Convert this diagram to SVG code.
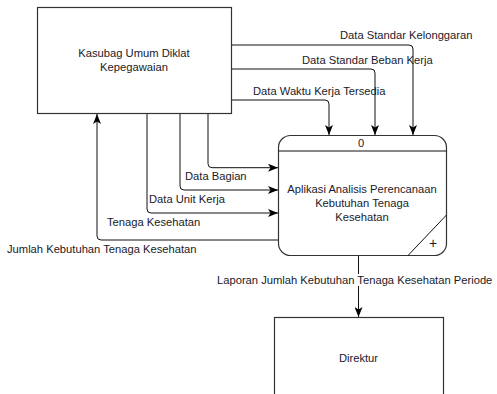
<svg xmlns="http://www.w3.org/2000/svg" width="497" height="394" viewBox="0 0 497 394">
<defs>
<marker id="arr" viewBox="0 0 10 8" refX="10" refY="4" markerWidth="10" markerHeight="8" markerUnits="userSpaceOnUse" orient="auto">
<path d="M0,0 L10,4 L0,8 L2.5,4 Z" fill="#000"/>
</marker>
<style>
.box{fill:#fff;stroke:#333;stroke-width:1.2}
.ln{fill:none;stroke:#111;stroke-width:1}
.t{font-family:"Liberation Sans",Arial,sans-serif;font-size:11.2px;fill:#1a1a2a}
.c{text-anchor:middle}
</style>
</defs>
<rect width="497" height="394" fill="#fff"/>
<g id="connectors">
<path class="ln" d="M232,45 H409 Q413,45 413,49 V135" marker-end="url(#arr)"/>
<path class="ln" d="M232,69 H371 Q375,69 375,73 V135" marker-end="url(#arr)"/>
<path class="ln" d="M232,100 H325 Q329,100 329,104 V135" marker-end="url(#arr)"/>
<path class="ln" d="M208,114 V163.7 Q208,167.7 212,167.7 H278" marker-end="url(#arr)"/>
<path class="ln" d="M180,114 V186 Q180,190 184,190 H278" marker-end="url(#arr)"/>
<path class="ln" d="M147,114 V209 Q147,213 151,213 H278" marker-end="url(#arr)"/>
<path class="ln" d="M278,240 H101 Q97,240 97,236 V114" marker-end="url(#arr)"/>
<path class="ln" d="M358.5,255 V317" marker-end="url(#arr)"/>
<rect x="216" y="274" width="281" height="12" fill="#fff"/>
<text class="t" x="340" y="39">Data Standar Kelonggaran</text>
<text class="t" x="302" y="64">Data Standar Beban Kerja</text>
<text class="t" x="253" y="95">Data Waktu Kerja Tersedia</text>
<text class="t" x="185" y="180">Data Bagian</text>
<text class="t" x="149" y="202.5">Data Unit Kerja</text>
<text class="t" x="107" y="226">Tenaga Kesehatan</text>
<text class="t" x="7" y="253">Jumlah Kebutuhan Tenaga Kesehatan</text>
<text class="t" x="217" y="284">Laporan Jumlah Kebutuhan Tenaga Kesehatan Periode</text>
</g>
<g id="kasubag">
<rect class="box" x="37.5" y="7.5" width="194" height="106"/>
<text class="t c" x="134" y="57">Kasubag Umum Diklat</text>
<text class="t c" x="134" y="70.5">Kepegawaian</text>
</g>
<g id="process">
<rect class="box" x="278.5" y="135.5" width="168" height="120" rx="12" ry="12"/>
<line class="ln" x1="278.5" y1="151" x2="446.5" y2="151" stroke="#333"/>
<line class="ln" x1="408" y1="255.5" x2="446.5" y2="215"/>
<text class="t c" x="361" y="147">0</text>
<text class="t c" x="362" y="193">Aplikasi Analisis Perencanaan</text>
<text class="t c" x="362" y="207">Kebutuhan Tenaga</text>
<text class="t c" x="362" y="220.5">Kesehatan</text>
<text class="t c" x="433" y="247.5" style="font-size:14px">+</text>
</g>
<g id="direktur">
<rect class="box" x="274.5" y="317.5" width="169" height="90"/>
<text class="t c" x="358.5" y="361.5">Direktur</text>
</g>
</svg>
